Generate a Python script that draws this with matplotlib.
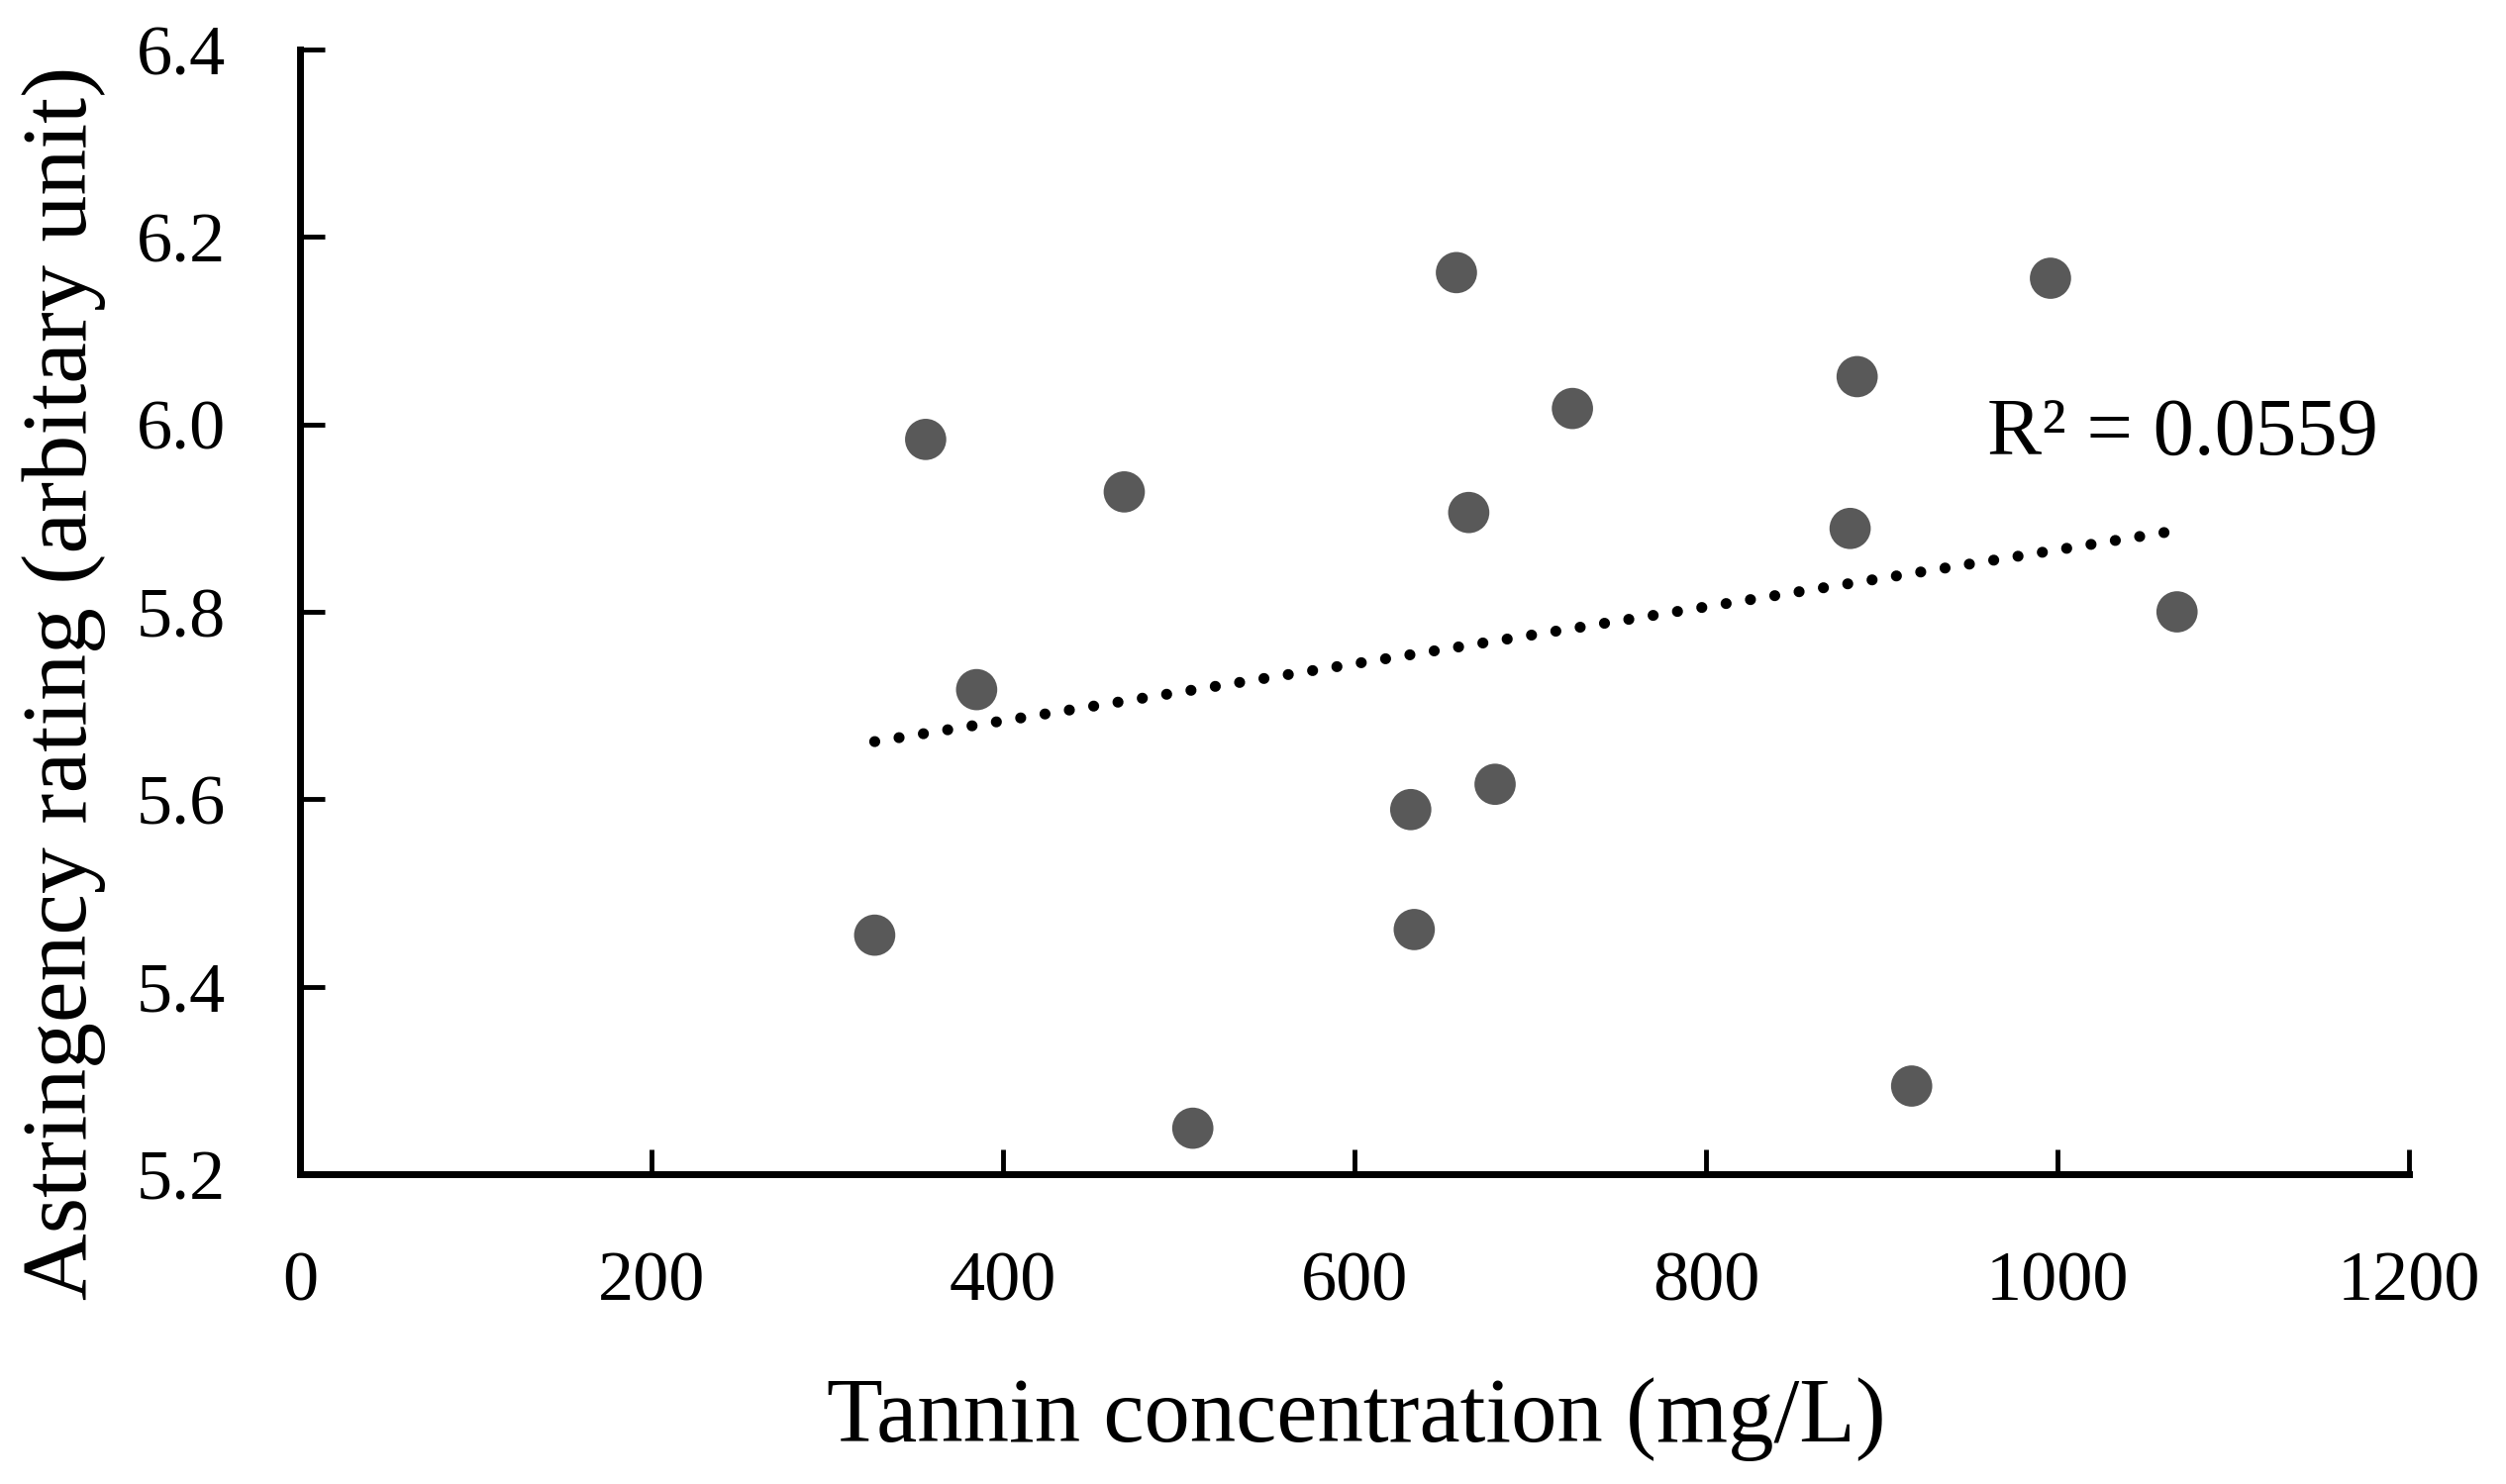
import numpy as np
import matplotlib.pyplot as plt

# tannin concentration (mg/L) and astringency rating
tannin = [327, 356, 385, 469, 508, 632, 634, 658, 665, 680, 724, 882, 886, 917, 996, 1068]
astringency = [5.455, 5.984, 5.717, 5.928, 5.249, 5.589, 5.461, 6.162, 5.906, 5.616,
               6.017, 5.889, 6.051, 5.294, 6.156, 5.800]
x_ticks = [0, 200, 400, 600, 800, 1000, 1200]
y_ticks = [5.2, 5.4, 5.6, 5.8, 6.0, 6.2, 6.4]
r2_label = "R² = 0.0559"

plt.rcParams['font.family'] = ['Liberation Serif', 'DejaVu Serif']

fig = plt.figure(figsize=(25.31, 14.99), dpi=100)
ax = fig.add_axes([0.1197, 0.2088, 0.8416, 0.7578])

ax.scatter(tannin, astringency, s=900, color='#595959', edgecolors='none', zorder=3)

# linear trend line
slope, intercept = np.polyfit(tannin, astringency, 1)
xs = np.array([min(tannin), max(tannin)])
ax.plot(xs, slope * xs + intercept, color='black', linewidth=8,
        linestyle=(0, (0.01, 2.23)), dash_capstyle='round', zorder=2)

ax.text(960, 5.967, r2_label, fontsize=59.5, ha='left', va='baseline')

ax.set_xlim(0, 1200)
ax.set_ylim(5.2, 6.4)
ax.set_xticks(x_ticks)
ax.set_yticks(y_ticks)
ax.set_yticklabels([f"{v:.1f}" for v in y_ticks])

for side in ['top', 'right']:
    ax.spines[side].set_visible(False)
for side in ['left', 'bottom']:
    ax.spines[side].set_linewidth(5)
ax.tick_params(direction='in', length=18, width=3.5, labelsize=52)
ax.tick_params(axis='x', pad=56)
ax.tick_params(axis='y', pad=54)

fig.text(0.5412, 0.044, "Tannin concentration (mg/L)", fontsize=66.8, ha='center', va='center')
fig.text(0.0253, 0.5397, "Astringency rating (arbitary unit)", fontsize=67.5,
         rotation=90, ha='center', va='center')

fig.savefig('out.png', dpi=100, facecolor='white')
